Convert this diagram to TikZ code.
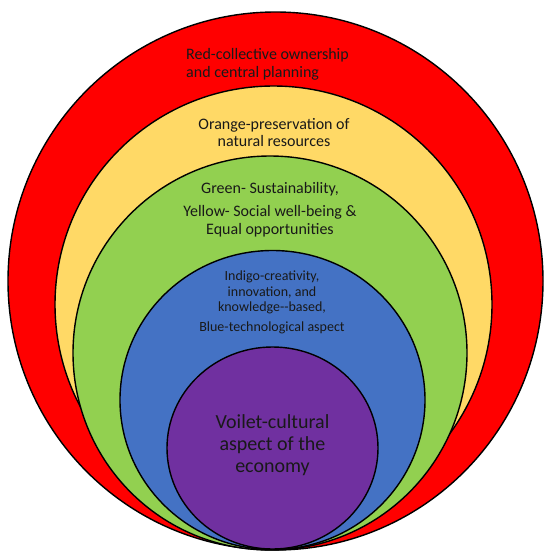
\documentclass[tikz,border=0pt]{standalone}
\usepackage{fontspec}
\setmainfont{Carlito}
\usepackage{tikz}
\usetikzlibrary{positioning}

\definecolor{ringred}{HTML}{FF0000}
\definecolor{ringorange}{HTML}{FFD966}
\definecolor{ringgreen}{HTML}{92D050}
\definecolor{ringblue}{HTML}{4472C4}
\definecolor{ringviolet}{HTML}{7030A0}

\begin{document}
\begin{tikzpicture}[x=1pt, y=-1pt,
        ring/.style={draw=black, line width=1.4pt},
        ringtext/.style={inner sep=0pt, align=center, text=black!90}]
        \useasboundingbox (0, 0) rectangle (544, 552);

        % 各圆的中心
        \coordinate (cRed) at (275.5, 281);
        \coordinate (cOrange) at (273.5, 304.5);
        \coordinate (cGreen) at (270, 353);
        \coordinate (cBlue) at (272.5, 400);
        \coordinate (cViolet) at (272.5, 448);

        % 由外到内绘制嵌套的圆
        \filldraw[ring, fill=ringred] (cRed) ellipse [x radius=267.5pt, y radius=269pt];
        \filldraw[ring, fill=ringorange] (cOrange) circle [radius=218.5pt];
        \filldraw[ring, fill=ringgreen] (cGreen) circle [radius=197pt];
        \filldraw[ring, fill=ringblue] (cBlue) ellipse [x radius=152.5pt, y radius=149.5pt];
        \filldraw[ring, fill=ringviolet] (cViolet) ellipse [x radius=105.5pt, y radius=101pt];

        % 各层的文字
        \node[ringtext, align=left, anchor=west, font=\fontsize{16}{17.5}\selectfont]
            (tRed) at (186, 64.3) {Red-collective ownership\\and central planning};
        \node[ringtext, font=\fontsize{16}{17.5}\selectfont]
            (tOrange) at (274, 132.5) {Orange-preservation of\\natural resources};
        \node[ringtext, font=\fontsize{16}{17.5}\selectfont]
            (tGreen) at (270, 209.5) {Green- Sustainability,\\[6pt]Yellow- Social well-being \&\\Equal opportunities};
        \node[ringtext, font=\fontsize{14}{15.5}\selectfont]
            (tBlue) at (272, 302.5) {Indigo-creativity,\\innovation, and\\knowledge-{}-based,\\[4.5pt]Blue-technological aspect};
        \node[ringtext, font=\fontsize{20}{22}\selectfont]
            (tViolet) at (272.5, 445) {Voilet-cultural\\aspect of the\\economy};
    \end{tikzpicture}
\end{document}
